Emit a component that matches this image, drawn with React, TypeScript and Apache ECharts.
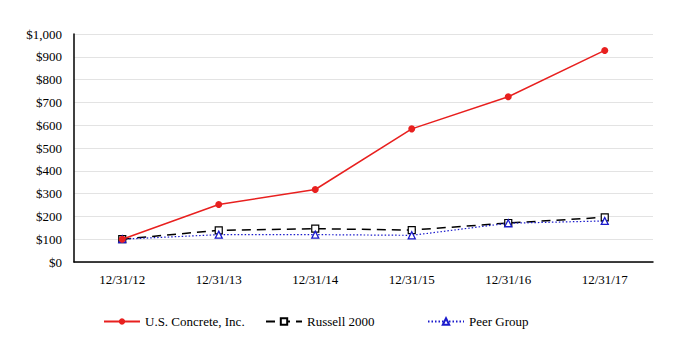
import React, { useEffect, useRef } from "react";
import * as echarts from "echarts";

const categories = ["12/31/12", "12/31/13", "12/31/14", "12/31/15", "12/31/16", "12/31/17"];
const usConcrete = [100, 252, 318, 584, 725, 928];
const russell2000 = [100, 139, 146, 140, 171, 196];
const peerGroup = [100, 120, 120, 117, 170, 180];
const yTicks = [0, 100, 200, 300, 400, 500, 600, 700, 800, 900, 1000];

const font = "Times New Roman";

export default function App() {
  const ref = useRef<HTMLDivElement>(null);
  useEffect(() => {
    if (!ref.current) return;
    const chart = echarts.init(ref.current, null, { renderer: "svg" });
    const legendBase = {
      top: 310,
      itemWidth: 36,
      itemHeight: 8,
      textStyle: { fontFamily: font, fontSize: 13, color: "#000" },
    };
    chart.setOption({
      animation: false,
      backgroundColor: "#fff",
      textStyle: { fontFamily: font },
      grid: { left: 74, right: 31, top: 34, bottom: 94 },
      legend: [
        { ...legendBase, left: 98, data: ["U.S. Concrete, Inc."] },
        { ...legendBase, left: 260, data: ["Russell 2000"] },
        { ...legendBase, left: 422, data: ["Peer Group"] },
      ],
      xAxis: {
        type: "category",
        data: categories,
        boundaryGap: true,
        axisLine: { lineStyle: { color: "#000", width: 1.5 } },
        axisTick: { show: false },
        axisLabel: { fontFamily: font, fontSize: 13, color: "#000", margin: 11 },
      },
      yAxis: {
        type: "value",
        min: 0,
        max: 1000,
        interval: 100,
        axisLine: { show: true, lineStyle: { color: "#000", width: 1.5 } },
        axisTick: { show: false },
        splitLine: { lineStyle: { color: "#e3e3e3", width: 1 } },
        axisLabel: {
          fontFamily: font,
          fontSize: 13,
          color: "#000",
          margin: 12,
          formatter: (v: number) =>
            yTicks.includes(v) ? "$" + v.toLocaleString("en-US") : "",
        },
      },
      series: [
        {
          name: "U.S. Concrete, Inc.",
          type: "line",
          data: usConcrete,
          symbol: "circle",
          symbolSize: 7,
          color: "#e8201f",
          lineStyle: { color: "#e8201f", width: 1.5 },
          itemStyle: { color: "#e8201f" },
          z: 3,
        },
        {
          name: "Russell 2000",
          type: "line",
          data: russell2000,
          symbol: "rect",
          symbolSize: 7,
          color: "#000",
          lineStyle: { color: "#000", width: 1.5, type: [9, 6] },
          itemStyle: { color: "#fff", borderColor: "#000", borderWidth: 1.2 },
          z: 2,
        },
        {
          name: "Peer Group",
          type: "line",
          data: peerGroup,
          symbol: "triangle",
          symbolSize: 7,
          color: "#1a1acc",
          lineStyle: { color: "#1a1acc", width: 1.2, type: [1.5, 2] },
          itemStyle: { color: "#fff", borderColor: "#1a1acc", borderWidth: 1.3 },
          z: 2,
        },
      ],
    });
    return () => chart.dispose();
  }, []);
  return <div ref={ref} style={{ width: 684, height: 356, margin: -8 }} />;
}
